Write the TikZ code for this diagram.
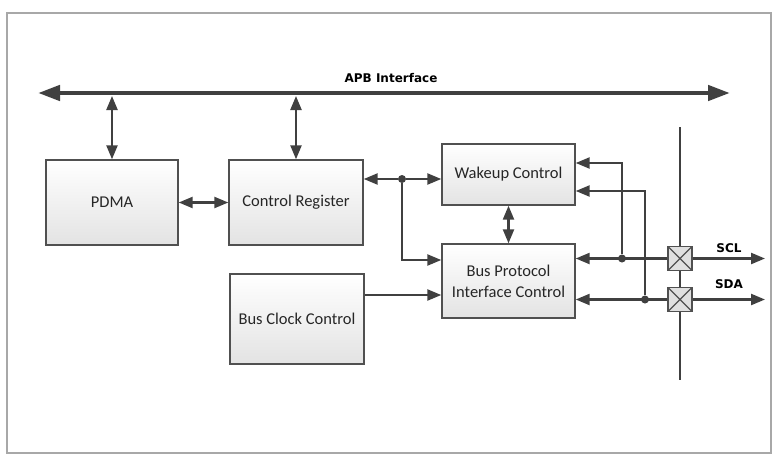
\documentclass[tikz,border=0pt]{standalone}
\usepackage{fontspec}
\setmainfont{Carlito}
\newfontfamily\lblfont{DejaVu Sans}
\usetikzlibrary{arrows.meta,calc}
\definecolor{ln}{HTML}{404040}
\definecolor{bx}{HTML}{505050}
\definecolor{frm}{HTML}{A8A8A8}
\tikzset{
  blk/.style={draw=bx, line width=1.4pt, top color=white, bottom color=black!11,
    minimum width=133pt, align=center, font=\fontsize{16.5}{21}\selectfont, text=black!85},
  conn/.style={draw=ln, line width=2.3pt},
  tip/.style={-{Triangle[length=14pt,width=11pt]}},
  tip2/.style={{Triangle[length=14pt,width=11pt]}-{Triangle[length=14pt,width=11pt]}},
  dotn/.style={circle, fill=ln, inner sep=0pt, minimum size=8pt},
  xbox/.style={draw=bx, line width=1.4pt, fill=black!12, minimum size=24pt, inner sep=0pt,
    path picture={\draw[bx, line width=1.2pt] (path picture bounding box.north west)--(path picture bounding box.south east)
      (path picture bounding box.north east)--(path picture bounding box.south west);}},
  lbl/.style={font=\lblfont\fontsize{12}{14}\selectfont\bfseries, text=black}
}
\begin{document}
\begin{tikzpicture}[x=1pt,y=-1pt]
\useasboundingbox (0,0) rectangle (779,463);
\draw[frm, line width=1.5pt] (7,13) rectangle (771,453);

% bus
\coordinate (busL) at (38,93);
\coordinate (busR) at (730,93);
\draw[draw=ln, line width=4.5pt, {Triangle[length=22pt,width=15pt]}-{Triangle[length=22pt,width=15pt]}] (busL) -- (busR);
\node[lbl] (apb) at (391,78) {APB Interface};

% blocks
\node[blk, minimum width=132pt, minimum height=85pt] (pdma) at (112,202.5) {PDMA};
\node[blk, minimum width=134pt, minimum height=85pt] (creg) at (296,202.5) {Control Register};
\node[blk, minimum height=61pt] (wake) at (508.5,174.5) {Wakeup Control};
\node[blk, minimum height=74pt] (bpic) at (508.5,281) {Bus Protocol\\Interface Control};
\node[blk, minimum width=134pt, minimum height=90pt] (bcc) at (297,319) {Bus Clock Control};

% bus to blocks
\draw[conn, tip2] (pdma.north |- 0,96) -- (pdma.north);
\draw[conn, tip2] (creg.north |- 0,96) -- (creg.north);
\draw[conn, tip2] (pdma.east) -- (creg.west);

% control register to wakeup / bus protocol
\node[dotn] (d0) at (402,179) {};
\draw[conn, tip] (d0) -- (creg.east |- d0);
\draw[conn, tip] (d0) -- (wake.west |- d0);
\draw[conn, tip] (d0) |- (bpic.west |- 0,260);
\draw[conn, tip2] (wake.south) -- (bpic.north);
\draw[conn, tip] (bcc.east |- 0,295) -- (bpic.west |- 0,295);

% right side pins
\coordinate (vtop) at (680,127);
\coordinate (vbot) at (680,380);
\draw[conn] (vtop) -- (vbot);
\node[xbox] (scl) at (680,258.5) {};
\node[xbox] (sda) at (680,299.5) {};
\coordinate (sclEnd) at (765,258.5);
\coordinate (sdaEnd) at (765,299.5);
\draw[conn, tip] (scl.east) -- (sclEnd);
\draw[conn, tip] (sda.east) -- (sdaEnd);
\draw[conn, tip] (scl.west) -- (bpic.east |- scl);
\draw[conn, tip] (sda.west) -- (bpic.east |- sda);
\node[dotn] (d1) at (622,258.5) {};
\node[dotn] (d2) at (645,299.5) {};
\draw[conn, tip] (d1) |- (wake.east |- 0,163);
\draw[conn, tip] (d2) |- (wake.east |- 0,191);
\node[lbl] (scllbl) at (729,248) {SCL};
\node[lbl] (sdalbl) at (729,284) {SDA};
\end{tikzpicture}
\end{document}
